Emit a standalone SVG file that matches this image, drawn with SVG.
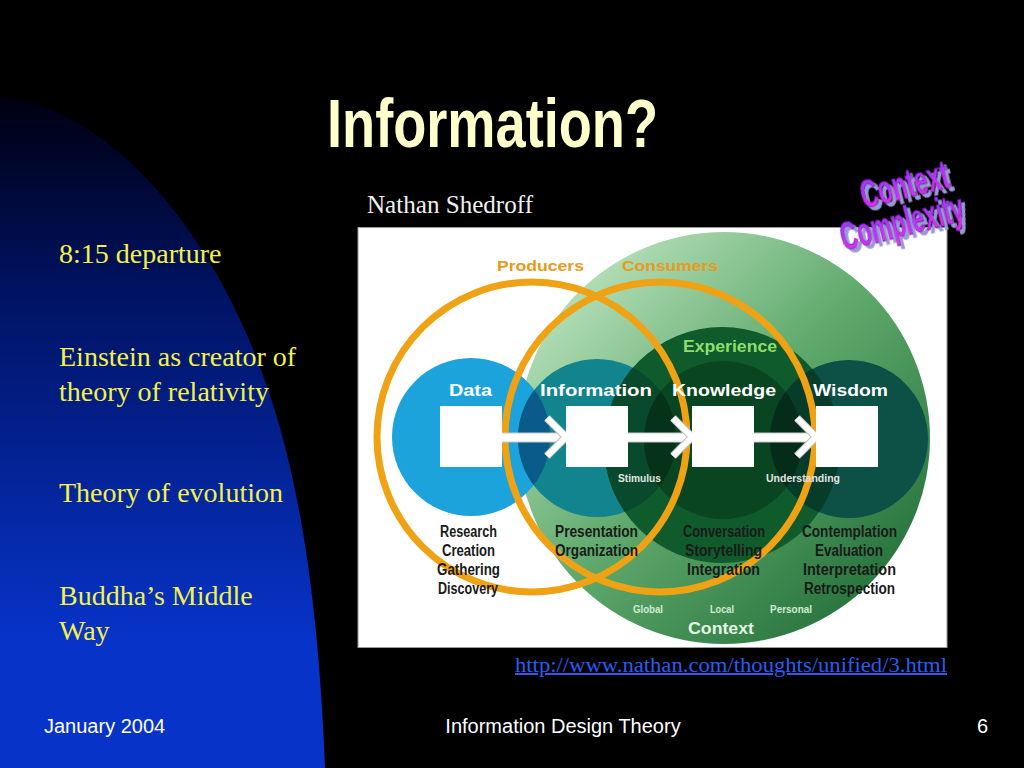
<svg xmlns="http://www.w3.org/2000/svg" width="1024" height="768" viewBox="0 0 1024 768">
<defs>
  <linearGradient id="bgBlue" gradientUnits="userSpaceOnUse" x1="0" y1="97" x2="0" y2="640">
    <stop offset="0" stop-color="#000010"/>
    <stop offset="0.35" stop-color="#001260"/>
    <stop offset="1" stop-color="#0733c8"/>
  </linearGradient>
  <linearGradient id="ctxGreen" x1="0.15" y1="0.15" x2="0.9" y2="0.9">
    <stop offset="0" stop-color="#b0dcb4"/>
    <stop offset="0.45" stop-color="#5fa96c"/>
    <stop offset="1" stop-color="#24703a"/>
  </linearGradient>
  <linearGradient id="waFill" x1="0" y1="0" x2="0" y2="1">
    <stop offset="0" stop-color="#8a3cff"/>
    <stop offset="1" stop-color="#f028f0"/>
  </linearGradient>
  <filter id="waShadow" x="-10%" y="-20%" width="130%" height="150%">
    <feDropShadow dx="3" dy="4" stdDeviation="0.3" flood-color="#9a9ad6" flood-opacity="1"/>
  </filter>
  <clipPath id="cData"><circle cx="471" cy="437" r="79"/></clipPath>
  <clipPath id="cInfo"><circle cx="597" cy="438" r="79"/></clipPath>
  <clipPath id="cExp"><circle cx="722" cy="445" r="118"/></clipPath>
  <clipPath id="cKnow"><circle cx="723" cy="440" r="79"/></clipPath>
  <style>
    .serif{font-family:"Liberation Serif","Times New Roman",serif;}
    .sans{font-family:"Liberation Sans",Arial,sans-serif;}
    .bullet{font-family:"Liberation Serif","Times New Roman",serif;font-size:28px;fill:#f2f24a;}
    .foot{font-family:"Liberation Sans",Arial,sans-serif;font-size:20px;fill:#ffffff;}
    .dg{font-family:"Liberation Sans Narrow","Liberation Sans",Arial,sans-serif;font-weight:bold;}
    .lbl{font-size:17px;fill:#ffffff;}
    .act{font-size:16px;fill:#1a1a1a;}
    .small{font-size:11px;fill:#e4e4e4;}
    .ctxs{font-size:11px;fill:#d2ecd2;}
    .ring{fill:none;stroke:#f0a215;stroke-width:7;}
    .box{fill:#ffffff;}
    .bar{fill:#ffffff;stroke:#c8c8c8;stroke-width:1;}
    .chevO{fill:none;stroke:#c0c0c0;stroke-width:8;stroke-linecap:butt;stroke-linejoin:miter;}
    .chev{fill:none;stroke:#ffffff;stroke-width:6;stroke-linecap:butt;stroke-linejoin:miter;}
    .wa{font-family:"Liberation Sans",Arial,sans-serif;font-weight:bold;font-size:40px;fill:url(#waFill);stroke:#6a1aa0;stroke-width:0.8;filter:url(#waShadow);}
  </style>
</defs>

<!-- slide background -->
<rect x="0" y="0" width="1024" height="768" fill="#000000"/>
<path d="M0,97 C90,105 170,190 220,280 C280,390 315,520 325,768 L0,768 Z" fill="url(#bgBlue)"/>

<!-- title -->
<text id="title" class="sans" x="327" y="147" font-size="68" font-weight="bold" fill="#ffffcc" textLength="331" lengthAdjust="spacingAndGlyphs">Information?</text>
<text class="serif" x="367" y="213" font-size="25" fill="#f0f0f0" textLength="166" lengthAdjust="spacingAndGlyphs">Nathan Shedroff</text>

<!-- bullets -->
<g id="bullets">
  <text class="bullet" x="59" y="263">8:15 departure</text>
  <text class="bullet" x="59" y="366">Einstein as creator of</text>
  <text class="bullet" x="59" y="401">theory of relativity</text>
  <text class="bullet" x="59" y="502">Theory of evolution</text>
  <text class="bullet" x="59" y="605">Buddha’s Middle</text>
  <text class="bullet" x="59" y="640">Way</text>
</g>

<!-- picture panel -->
<rect x="358" y="227.5" width="589" height="420" fill="#ffffff" stroke="#9a9a9a" stroke-width="1"/>

<!-- context circle -->
<g id="context">
  <circle cx="724" cy="438" r="206" fill="url(#ctxGreen)"/>
  <text class="dg ctxs" x="633" y="613" textLength="30" lengthAdjust="spacingAndGlyphs">Global</text>
  <text class="dg ctxs" x="710" y="613" textLength="24" lengthAdjust="spacingAndGlyphs">Local</text>
  <text class="dg ctxs" x="770" y="613" textLength="42" lengthAdjust="spacingAndGlyphs">Personal</text>
  <text class="dg" x="688" y="634" font-size="17" fill="#e2f6e2" textLength="66" lengthAdjust="spacingAndGlyphs">Context</text>
</g>

<!-- data -->
<g id="data">
  <circle cx="471" cy="437" r="79" fill="#1ca3dc"/>
</g>
<!-- information -->
<g id="information">
  <circle cx="597" cy="438" r="79" fill="#11848e"/>
  <circle cx="597" cy="438" r="79" fill="#0b5b8a" clip-path="url(#cData)"/>
</g>
<!-- experience -->
<g id="experience">
  <circle cx="722" cy="445" r="118" fill="#0f5b2c"/>
  <circle cx="722" cy="445" r="118" fill="#0a4a2c" clip-path="url(#cInfo)"/>
</g>
<!-- knowledge -->
<g id="knowledge">
  <circle cx="723" cy="440" r="79" fill="#0a4522"/>
  <circle cx="723" cy="440" r="79" fill="#053219" clip-path="url(#cInfo)"/>
</g>
<!-- wisdom -->
<g id="wisdom">
  <circle cx="849" cy="439" r="79" fill="#0c5046"/>
  <circle cx="849" cy="439" r="79" fill="#073c2b" clip-path="url(#cExp)"/>
  <circle cx="849" cy="439" r="79" fill="#042c19" clip-path="url(#cKnow)"/>
</g>

<!-- producer / consumer rings -->
<g id="producers">
  <circle class="ring" cx="532" cy="437" r="155"/>
  <text class="dg" x="497" y="271" font-size="15" fill="#e89a1c" textLength="87" lengthAdjust="spacingAndGlyphs">Producers</text>
</g>
<g id="consumers">
  <circle class="ring" cx="660" cy="437" r="155"/>
  <text class="dg" x="622" y="271" font-size="15" fill="#e89a1c" textLength="96" lengthAdjust="spacingAndGlyphs">Consumers</text>
</g>

<text class="dg" x="683" y="352" font-size="16" fill="#8fde6c" textLength="94" lengthAdjust="spacingAndGlyphs">Experience</text>

<!-- connectors -->
<g id="connectors">
  <rect class="bar" x="501" y="433" width="66" height="9"/>
  <polyline class="chevO" points="547,418 566,437 547,456"/>
  <polyline class="chev" points="547,418 566,437 547,456"/>
  <rect class="bar" x="627" y="433" width="66" height="9"/>
  <polyline class="chevO" points="673,418 692,437 673,456"/>
  <polyline class="chev" points="673,418 692,437 673,456"/>
  <rect class="bar" x="753" y="433" width="64" height="9"/>
  <polyline class="chevO" points="797,418 816,437 797,456"/>
  <polyline class="chev" points="797,418 816,437 797,456"/>
  <text class="dg small" x="618" y="482" textLength="43" lengthAdjust="spacingAndGlyphs">Stimulus</text>
  <text class="dg small" x="766" y="482" textLength="74" lengthAdjust="spacingAndGlyphs">Understanding</text>
</g>

<!-- node boxes and labels -->
<g id="node-data">
  <rect class="box" x="440" y="406" width="62" height="61"/>
  <text class="dg lbl" x="449" y="396" textLength="43" lengthAdjust="spacingAndGlyphs">Data</text>
  <text class="dg act" x="440" y="537" textLength="57" lengthAdjust="spacingAndGlyphs">Research</text>
  <text class="dg act" x="442" y="556" textLength="53" lengthAdjust="spacingAndGlyphs">Creation</text>
  <text class="dg act" x="437" y="575" textLength="63" lengthAdjust="spacingAndGlyphs">Gathering</text>
  <text class="dg act" x="438" y="594" textLength="60" lengthAdjust="spacingAndGlyphs">Discovery</text>
</g>
<g id="node-information">
  <rect class="box" x="566" y="406" width="62" height="61"/>
  <text class="dg lbl" x="540" y="396" textLength="112" lengthAdjust="spacingAndGlyphs">Information</text>
  <text class="dg act" x="555" y="537" textLength="83" lengthAdjust="spacingAndGlyphs">Presentation</text>
  <text class="dg act" x="555" y="556" textLength="83" lengthAdjust="spacingAndGlyphs">Organization</text>
</g>
<g id="node-knowledge">
  <rect class="box" x="692" y="406" width="62" height="61"/>
  <text class="dg lbl" x="672" y="396" textLength="104" lengthAdjust="spacingAndGlyphs">Knowledge</text>
  <text class="dg act" x="683" y="537" textLength="82" lengthAdjust="spacingAndGlyphs">Conversation</text>
  <text class="dg act" x="685" y="556" textLength="77" lengthAdjust="spacingAndGlyphs">Storytelling</text>
  <text class="dg act" x="687" y="575" textLength="73" lengthAdjust="spacingAndGlyphs">Integration</text>
</g>
<g id="node-wisdom">
  <rect class="box" x="816" y="406" width="62" height="61"/>
  <text class="dg lbl" x="813" y="396" textLength="75" lengthAdjust="spacingAndGlyphs">Wisdom</text>
  <text class="dg act" x="802" y="537" textLength="95" lengthAdjust="spacingAndGlyphs">Contemplation</text>
  <text class="dg act" x="815" y="556" textLength="68" lengthAdjust="spacingAndGlyphs">Evaluation</text>
  <text class="dg act" x="803" y="575" textLength="93" lengthAdjust="spacingAndGlyphs">Interpretation</text>
  <text class="dg act" x="804" y="594" textLength="91" lengthAdjust="spacingAndGlyphs">Retrospection</text>
</g>

<!-- WordArt -->
<g id="wordart">
  <text class="wa" x="864" y="209" transform="rotate(-14 864 209)" textLength="90" lengthAdjust="spacingAndGlyphs">Context</text>
  <text class="wa" x="844" y="251" transform="rotate(-14 844 251)" textLength="126" lengthAdjust="spacingAndGlyphs">Complexity</text>
</g>

<!-- link -->
<text class="serif" x="515" y="672" font-size="20" fill="#2a5cf0" text-decoration="underline" textLength="432" lengthAdjust="spacingAndGlyphs">http://www.nathan.com/thoughts/unified/3.html</text>

<!-- footer -->
<text class="foot" x="44" y="733">January 2004</text>
<text class="foot" x="563" y="733" text-anchor="middle">Information Design Theory</text>
<text class="foot" x="977" y="733">6</text>
</svg>
